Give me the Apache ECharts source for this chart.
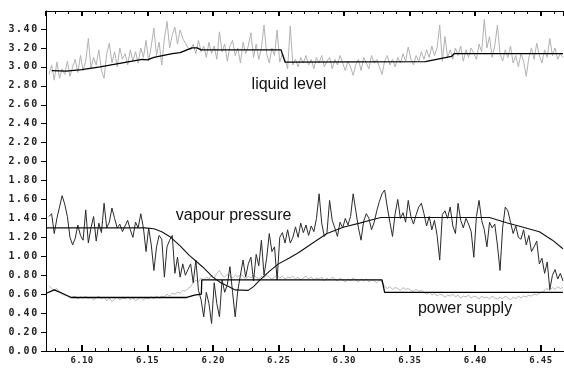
<!DOCTYPE html>
<html>
<head>
<meta charset="utf-8">
<script src="https://cdn.jsdelivr.net/npm/echarts@6/dist/echarts.min.js"></script>
<style>
html,body{margin:0;padding:0;background:#fff;}
#chart{width:564px;height:369px;}
</style>
</head>
<body>
<div id="chart"></div>
<script>
// sampling of the noisy (measured) signals
const sampleStart = 6.075;
const sampleStep = 0.002;

// liquid level, measured (grey)
const liquidMeasured = [
 2.92,3.02,2.86,3.05,2.88,2.98,2.92,3.06,2.90,3.00,
 3.08,2.94,3.12,2.96,3.06,3.30,2.98,3.10,3.02,3.18,
 2.96,2.88,3.14,3.25,3.04,3.16,3.00,3.20,3.08,3.14,
 3.02,3.18,3.06,3.16,3.04,3.20,3.10,3.28,3.06,3.22,
 3.41,3.12,3.26,3.02,3.30,3.48,3.20,3.34,3.42,3.24,
 3.39,3.30,3.25,3.20,3.18,3.24,3.14,3.28,3.16,3.22,
 3.10,3.26,3.14,3.22,3.08,3.37,3.16,3.24,3.06,3.22,
 3.28,3.12,3.20,3.04,3.26,3.14,3.22,3.36,3.10,3.24,
 3.08,3.20,3.44,3.14,3.04,3.20,3.12,3.39,3.05,3.14,
 3.08,2.98,3.43,3.02,3.08,3.00,3.10,3.04,3.12,3.02,
 3.08,2.98,3.10,3.04,3.12,3.00,3.06,3.10,2.98,3.08,
 3.02,3.12,3.04,2.96,3.06,3.00,2.91,3.02,3.08,2.96,
 3.10,3.04,2.98,3.12,3.04,3.08,3.00,2.92,3.06,3.12,
 3.02,3.08,3.00,3.10,3.04,3.14,3.06,3.21,3.08,3.02,
 3.12,3.06,3.16,3.08,3.18,3.10,3.22,3.12,3.20,3.44,
 3.06,3.32,3.10,3.18,3.08,3.20,3.12,3.22,3.06,3.18,
 3.10,3.20,3.14,3.08,3.24,3.16,3.50,3.20,3.32,3.10,
 3.22,3.44,3.14,3.06,3.18,3.10,3.22,3.04,3.12,3.00,
 3.14,3.06,2.90,3.10,3.20,3.08,3.25,3.12,3.04,3.18,
 3.10,3.30,3.12,3.20,3.08,3.14,3.10
];

// vapour pressure, measured (dark)
const vapourMeasured = [
 1.42,1.45,1.24,1.40,1.52,1.64,1.55,1.42,1.20,1.12,
 1.19,1.33,1.22,1.17,1.49,1.14,1.30,1.42,1.16,1.35,
 1.25,1.56,1.30,1.36,1.51,1.40,1.30,1.34,1.26,1.32,
 1.38,1.28,1.20,1.36,1.30,1.45,1.30,1.05,1.30,1.12,
 0.85,1.10,1.22,1.18,0.78,1.10,1.17,1.22,0.82,0.99,
 0.78,0.92,0.80,0.86,0.92,0.72,0.96,0.64,0.54,0.36,
 0.62,0.50,0.29,0.72,0.50,0.36,0.75,0.62,0.70,0.89,
 0.62,0.36,0.64,0.80,0.96,0.78,0.92,0.99,0.74,1.02,
 0.90,1.17,0.80,0.98,1.24,1.05,1.10,0.75,1.20,1.25,
 1.14,1.28,1.14,1.20,1.31,1.20,1.35,1.25,1.33,1.22,
 1.32,1.26,1.40,1.66,1.35,1.21,1.25,1.59,1.38,1.30,
 1.21,1.36,1.30,1.40,1.33,1.42,1.66,1.48,1.30,1.17,
 1.37,1.45,1.40,1.28,1.36,1.48,1.58,1.66,1.70,1.52,
 1.36,1.21,1.45,1.60,1.40,1.46,1.36,1.59,1.42,1.34,
 1.44,1.52,1.56,1.45,1.32,1.42,1.28,1.38,1.22,0.96,
 1.44,1.48,1.40,1.52,1.32,1.24,1.56,1.38,1.30,1.40,
 1.34,1.26,0.99,1.42,1.59,1.38,1.28,1.10,1.36,1.30,
 1.34,1.12,0.85,1.30,1.52,1.48,1.36,1.24,1.32,1.20,
 1.18,1.28,1.12,1.22,1.05,1.10,1.16,0.92,0.98,0.82,
 0.94,0.65,0.80,0.86,0.76,0.82,0.74
];

// power supply, measured (grey)
const powerMeasured = [
 0.69,0.66,0.64,0.66,0.62,0.60,0.59,0.58,0.56,0.57,
 0.58,0.55,0.57,0.56,0.58,0.55,0.57,0.54,0.56,0.58,
 0.55,0.57,0.53,0.56,0.52,0.55,0.57,0.54,0.56,0.55,
 0.57,0.54,0.56,0.53,0.55,0.57,0.54,0.56,0.55,0.57,
 0.55,0.58,0.56,0.58,0.57,0.60,0.58,0.61,0.60,0.62,
 0.61,0.64,0.63,0.66,0.68,0.72,0.75,0.73,0.77,0.75,
 0.78,0.76,0.80,0.77,0.82,0.85,0.80,0.78,0.81,0.79,
 0.77,0.80,0.78,0.81,0.79,0.76,0.79,0.77,0.80,0.78,
 0.76,0.79,0.77,0.80,0.78,0.76,0.78,0.80,0.77,0.79,
 0.76,0.78,0.77,0.79,0.76,0.78,0.75,0.77,0.79,0.76,
 0.78,0.75,0.77,0.76,0.78,0.74,0.77,0.75,0.78,0.76,
 0.74,0.77,0.75,0.73,0.76,0.74,0.77,0.75,0.73,0.76,
 0.74,0.76,0.73,0.75,0.74,0.72,0.75,0.73,0.68,0.66,
 0.68,0.65,0.67,0.66,0.64,0.67,0.65,0.66,0.64,0.63,
 0.65,0.63,0.64,0.62,0.60,0.62,0.59,0.61,0.58,0.60,
 0.59,0.57,0.59,0.58,0.60,0.57,0.59,0.56,0.58,0.57,
 0.59,0.56,0.58,0.57,0.55,0.58,0.56,0.57,0.55,0.58,
 0.56,0.55,0.57,0.55,0.58,0.56,0.54,0.57,0.55,0.58,
 0.56,0.58,0.57,0.59,0.58,0.60,0.59,0.61,0.62,0.64,
 0.66,0.64,0.67,0.65,0.68,0.66,0.67
];

// liquid level, model (black)
const liquidModelT = [6.077,6.088,6.100,6.114,6.130,6.146,6.150,6.155,6.169,6.175,6.184,6.188,6.191,6.252,6.255,6.362,6.382,6.384,6.467];
const liquidModelV = [2.96, 2.955,2.97, 3.00, 3.04, 3.08, 3.075,3.10, 3.14, 3.15, 3.20, 3.20, 3.18, 3.18, 3.05, 3.055,3.11, 3.14, 3.14];

// vapour pressure, model (black)
const vapourModelT = [6.073,6.148,6.155,6.161,6.167,6.175,6.182,6.192,6.200,6.206,6.212,6.217,6.227,6.231,6.236,6.243,6.250,6.258,6.2655,6.275,6.287,6.300,6.312,6.320,6.328,6.411,6.424,6.436,6.449,6.459,6.467];
const vapourModelV = [1.30, 1.30, 1.29, 1.26, 1.21, 1.11, 1.01, 0.89, 0.78, 0.72, 0.68, 0.645,0.64, 0.68, 0.75, 0.84, 0.92, 0.98, 1.04,  1.13, 1.24, 1.31, 1.35, 1.38, 1.41, 1.41, 1.355,1.31, 1.26, 1.17, 1.08];

// power supply, model (black)
const powerModelT = [6.073,6.079,6.085,6.092,6.180,6.186,6.1912,6.1915,6.329,6.331,6.467];
const powerModelV = [0.61, 0.645,0.61, 0.565,0.565,0.59, 0.60,  0.75,  0.75, 0.62, 0.62];

// axes
const xMin = 6.0727, xMax = 6.4678;
const xMinorStart = 6.08, xMinorStep = 0.01;   // minor tick marks every 0.01
const yMin = 0, yMax = 3.59, yStep = 0.2;

// in-plot labels, anchored in data coordinates
const annotations = [
  {text: 'liquid level', t: 6.258, v: 2.81},
  {text: 'vapour pressure', t: 6.2158, v: 1.426},
  {text: 'power supply', t: 6.3923, v: 0.449}
];

function sampled(arr) {
  return arr.map((v, i) => [sampleStart + i * sampleStep, v]);
}
function pairs(ts, vs) { return ts.map((t, i) => [t, vs[i]]); }
function spaced(str) {
  return str.split('').map(c => '{c|' + c + '}').join('');
}

// layout
const W = 564;
const plotLeft = 46, plotRight = -1, plotTop = 11, plotBottom = 18;
const plotWidth = W - plotRight - plotLeft;
const minorGridLeft = plotLeft + (xMinorStart - xMin) * plotWidth / (xMax - xMin);

const chart = echarts.init(document.getElementById('chart'), null, {renderer: 'canvas'});

const baseLine = {type: 'line', showSymbol: false, symbol: 'none', animation: false, silent: true};
const black = '#000';

const option = {
  animation: false,
  backgroundColor: '#fff',
  grid: [
    {left: plotLeft, right: plotRight, top: plotTop, bottom: plotBottom, containLabel: false},
    {left: minorGridLeft, right: plotRight, top: plotTop, bottom: plotBottom, containLabel: false}
  ],
  xAxis: [
    { // main bottom axis: line, major ticks, labels
      gridIndex: 0, type: 'value', min: xMin, max: xMax, splitNumber: 8, position: 'bottom',
      axisLine: {show: true, onZero: false, lineStyle: {color: black, width: 1}},
      axisTick: {show: true, inside: true, length: 6, lineStyle: {color: black, width: 2}},
      splitLine: {show: false},
      axisLabel: {
        show: true, margin: 5, showMinLabel: false, showMaxLabel: false,
        formatter: v => (Math.abs(v * 20 - Math.round(v * 20)) < 1e-6 ? spaced(v.toFixed(2)) : ''),
        rich: {c: {width: 5.8, align: 'center', fontFamily: '"DejaVu Sans Mono", monospace', fontSize: 9, fontWeight: 'bold', color: '#222', lineHeight: 10}}
      }
    },
    { // main top axis
      gridIndex: 0, type: 'value', min: xMin, max: xMax, splitNumber: 8, position: 'top',
      axisLine: {show: true, onZero: false, lineStyle: {color: black, width: 1}},
      axisTick: {show: true, inside: true, length: 5, lineStyle: {color: black, width: 2}},
      splitLine: {show: false},
      axisLabel: {show: false}
    },
    { // minor ticks bottom
      gridIndex: 1, type: 'value', min: xMinorStart, max: xMax, interval: xMinorStep, position: 'bottom',
      axisLine: {show: false, onZero: false},
      axisTick: {show: true, inside: true, length: 3, lineStyle: {color: black, width: 1}},
      splitLine: {show: false},
      axisLabel: {show: false}
    },
    { // minor ticks top
      gridIndex: 1, type: 'value', min: xMinorStart, max: xMax, interval: xMinorStep, position: 'top',
      axisLine: {show: false, onZero: false},
      axisTick: {show: true, inside: true, length: 3, lineStyle: {color: black, width: 1}},
      splitLine: {show: false},
      axisLabel: {show: false}
    }
  ],
  yAxis: [
    {
      gridIndex: 0, type: 'value', min: yMin, max: yMax, interval: yStep,
      axisLine: {show: true, lineStyle: {color: black, width: 1}},
      axisTick: {show: true, inside: false, length: 5, lineStyle: {color: black, width: 1}},
      splitLine: {show: false},
      axisLabel: {
        show: true, margin: 8, showMaxLabel: false,
        formatter: v => (Math.abs(v / yStep - Math.round(v / yStep)) < 1e-6 ? spaced(v.toFixed(2)) : ''),
        rich: {c: {width: 7.6, align: 'center', fontFamily: '"DejaVu Sans Mono", monospace', fontSize: 10, fontWeight: 'bold', color: '#222', lineHeight: 10}}
      }
    },
    {gridIndex: 1, type: 'value', min: 0, max: 1, show: false}
  ],
  series: [
    Object.assign({}, baseLine, {name: 'liquid measured', data: sampled(liquidMeasured), lineStyle: {color: '#b2b2b2', width: 1}, z: 1}),
    Object.assign({}, baseLine, {name: 'power measured', data: sampled(powerMeasured), lineStyle: {color: '#b8b8b8', width: 1}, z: 1}),
    Object.assign({}, baseLine, {name: 'vapour measured', data: sampled(vapourMeasured), lineStyle: {color: '#2a2a2a', width: 1}, z: 2}),
    Object.assign({}, baseLine, {name: 'liquid model', data: pairs(liquidModelT, liquidModelV), lineStyle: {color: '#000', width: 1.3}, z: 3}),
    Object.assign({}, baseLine, {name: 'vapour model', data: pairs(vapourModelT, vapourModelV), lineStyle: {color: '#111', width: 1.1}, z: 3}),
    Object.assign({}, baseLine, {name: 'power model', data: pairs(powerModelT, powerModelV), lineStyle: {color: '#000', width: 1.3}, z: 3})
  ]
};

chart.setOption(option);

const g = annotations.map(a => {
  const p = chart.convertToPixel({gridIndex: 0}, [a.t, a.v]);
  return {
    type: 'text', x: p[0], y: p[1], z: 10,
    style: {text: a.text, font: '16px "Liberation Sans", Arial, sans-serif', fill: '#111',
            align: 'center', verticalAlign: 'middle', textAlign: 'center', textVerticalAlign: 'middle'}
  };
});
chart.setOption({graphic: g});
</script>
</body>
</html>
